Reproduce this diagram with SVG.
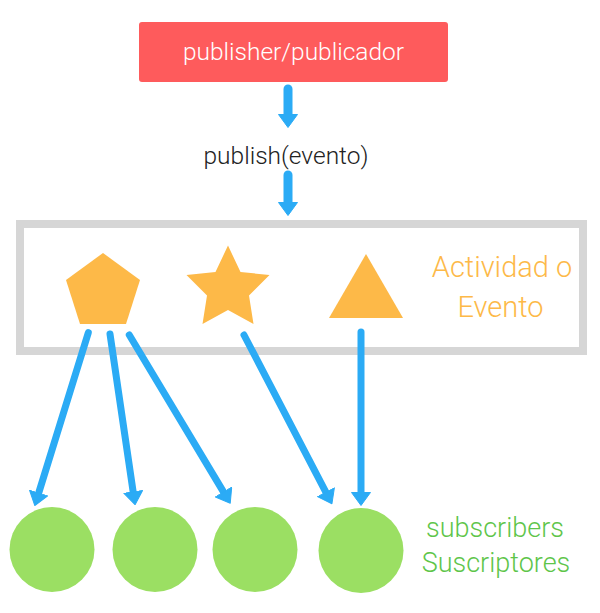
<svg xmlns="http://www.w3.org/2000/svg" width="600" height="613" viewBox="0 0 600 613">
<style>
.t{font-family:Roboto,"Liberation Sans",sans-serif;font-weight:300;font-size:24px}
.arr{stroke:#2BABF5;stroke-width:7;stroke-linecap:round;fill:none;marker-end:url(#ah)}
.shape{fill:#FDB948}
.sub{fill:#9BDF63}
.ev{fill:#FDB948;font-size:29px}
.sb{fill:#5EC54A;font-size:27px}
</style>
<defs>
<marker id="ah" markerUnits="userSpaceOnUse" markerWidth="14" markerHeight="20" viewBox="0 0 14 20" refX="0" refY="10" orient="auto">
<path d="M0.5,0.5 L13.5,10 L0.5,19.5 Z" fill="#2BABF5" stroke="#2BABF5" stroke-width="1" stroke-linejoin="round"/>
</marker>
</defs>
<rect width="600" height="613" fill="#fff"/>
<g id="publisher">
<rect x="139" y="22" width="309" height="60" rx="3" fill="#FE5B5C"/>
<text class="t" x="293.5" y="60" text-anchor="middle" fill="#fff" style="font-size:24.5px">publisher/publicador</text>
</g>
<g id="publish-label">
<text class="t" x="286" y="164" text-anchor="middle" fill="#222" style="font-size:24.5px">publish(evento)</text>
</g>
<g id="events">
<rect x="20" y="224" width="563" height="127" fill="none" stroke="#D6D6D6" stroke-width="8"/>
<polygon class="shape" points="103,253 140,280 126,324 80,324 66,280"/>
<polygon class="shape" points="228,245.5 240.5,272 269.5,275 249,295.5 253.5,324 228,310 202.5,324 207,295.5 186.5,275 215.5,272"/>
<polygon class="shape" points="366,254 403,318 329,318"/>
<text class="t ev" x="502" y="277" text-anchor="middle">Actividad o</text>
<text class="t ev" x="500.5" y="317" text-anchor="middle">Evento</text>
</g>
<g id="subscribers">
<circle class="sub" cx="52" cy="549.5" r="42.5"/>
<circle class="sub" cx="155" cy="549.5" r="42.5"/>
<circle class="sub" cx="255" cy="549.5" r="42.5"/>
<circle class="sub" cx="361" cy="550.5" r="42.5"/>
<text class="t sb" x="495" y="537" text-anchor="middle">subscribers</text>
<text class="t sb" x="496" y="572" text-anchor="middle">Suscriptores</text>
</g>
<g id="connectors">
<line class="arr" style="stroke-width:9" x1="288" y1="89" x2="288" y2="114"/>
<line class="arr" style="stroke-width:9" x1="288" y1="175" x2="288" y2="202"/>
<line class="arr" x1="88.3" y1="332.7" x2="38.8" y2="492.6"/>
<line class="arr" x1="110" y1="334" x2="133.1" y2="491.4"/>
<line class="arr" x1="129.3" y1="335" x2="223.3" y2="491.6"/>
<line class="arr" x1="244" y1="335" x2="325.7" y2="491.8"/>
<line class="arr" x1="361" y1="332" x2="361" y2="492"/>
</g>
</svg>
